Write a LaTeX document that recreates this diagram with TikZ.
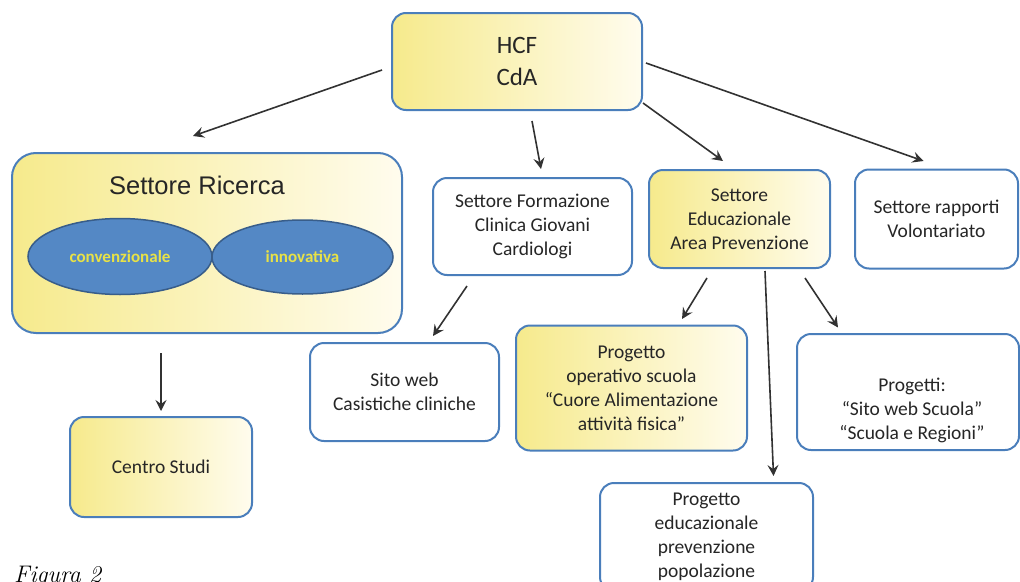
\documentclass[tikz,border=0pt]{standalone}
\usepackage{fontspec}
\newfontfamily\calibri{Carlito}
\newfontfamily\arialfont{Liberation Sans}
\definecolor{boxblue}{RGB}{74,126,187}
\definecolor{boxyellow}{RGB}{246,234,140}
\definecolor{boxcream}{RGB}{255,252,238}
\definecolor{ovalblue}{RGB}{84,136,197}
\definecolor{ovalline}{RGB}{56,93,138}
\definecolor{ovaltext}{RGB}{232,226,70}
\definecolor{textgray}{RGB}{38,38,38}
\definecolor{arrowgray}{RGB}{50,50,50}
\usetikzlibrary{positioning,shapes.geometric,arrows.meta,calc}

\begin{document}
\begin{tikzpicture}[x=1pt,y=-1pt,
    box/.style={draw=boxblue,line width=2pt,rounded corners=14pt,align=center,text=textgray,inner sep=0pt,font=\calibri\fontsize{19.5}{24}\selectfont},
    ybox/.style={box,left color=boxyellow,right color=boxcream},
    wbox/.style={box,fill=white},
    oval/.style={ellipse,draw=ovalline,line width=1.5pt,fill=ovalblue,text=ovaltext,inner sep=0pt,font=\calibri\bfseries\fontsize{17}{20}\selectfont},
    arr/.style={-{Stealth[length=11pt,width=11pt,inset=4pt]},line width=1.6pt,arrowgray}]
    \useasboundingbox (0,0) rectangle (1020,581);

    \node[ybox,minimum width=250pt,minimum height=97pt,font=\calibri\fontsize{25}{32}\selectfont] (hcf) at (517,61.5) {HCF\\CdA};

    \node[ybox,minimum width=390pt,minimum height=180pt,rounded corners=24pt] (ric) at (207,243) {};
    \node[font=\arialfont\fontsize{25.5}{30}\selectfont,text=black!85] (rictitle) at (197,185) {Settore Ricerca};
    \node[oval,minimum width=184pt,minimum height=76pt] (conv) at (120,256.5) {convenzionale};
    \node[oval,minimum width=181pt,minimum height=74pt] (innov) at (302.5,257) {innovativa};
    \node[ybox,minimum width=182pt,minimum height=100pt] (centro) at (161,467) {Centro Studi};

    \node[wbox,minimum width=199pt,minimum height=97pt] (form) at (532.5,226.5) {Settore Formazione\\Clinica Giovani\\Cardiologi};
    \node[ybox,minimum width=181pt,minimum height=98pt] (edu) at (739.5,219) {Settore\\Educazionale\\Area Prevenzione};
    \node[wbox,minimum width=163pt,minimum height=99pt] (vol) at (936.5,219) {Settore rapporti\\Volontariato};
    \node[wbox,minimum width=189pt,minimum height=98pt] (sito) at (404.5,392) {Sito web\\Casistiche cliniche};
    \node[ybox,minimum width=231pt,minimum height=125pt] (oper) at (631.5,388) {Progetto\\operativo scuola\\“Cuore Alimentazione\\attività fisica”};
    \node[wbox,minimum width=222pt,minimum height=116pt] (prog) at (908,392) {};
    \node[text=textgray,align=center,font=\calibri\fontsize{19.5}{24}\selectfont] (progtxt) at (912,410) {Progetti:\\“Sito web Scuola”\\“Scuola e Regioni”};
    \node[wbox,minimum width=213pt,minimum height=108pt] (pedu) at (706.5,537) {Progetto\\educazionale\\prevenzione\\popolazione};

    \node[font=\itshape\fontsize{24}{28}\selectfont,anchor=base west,inner sep=0pt] (fig) at (14,582) {Figura 2};

    \draw[arr] ($(hcf.west)+(-9,8.5)$) -- ($(ric.north)+(-14,-16)$);
    \draw[arr] ($(hcf.south)+(15,10)$) -- ($(form.north)+(8.5,-8)$);
    \draw[arr] ($(hcf.south east)+(0,-8)$) -- ($(edu.north)+(-16.5,-8)$);
    \draw[arr] ($(hcf.east)+(3,1.5)$) -- ($(vol.north)+(-13,-7.5)$);
    \draw[arr] ($(ric.south)+(-46,19)$) -- ($(centro.north)+(0,-5)$);
    \draw[arr] ($(form.south)+(-65.5,10)$) -- ($(sito.north)+(28.5,-6)$);
    \draw[arr] ($(edu.south)+(-32.5,9)$) -- ($(oper.north)+(50.5,-5.5)$);
    \draw[arr] ($(edu.south)+(25.5,2)$) -- ($(pedu.north)+(67,-6)$);
    \draw[arr] ($(edu.south)+(65.5,9)$) -- ($(prog.north)+(-70,-5.5)$);
\end{tikzpicture}
\end{document}
